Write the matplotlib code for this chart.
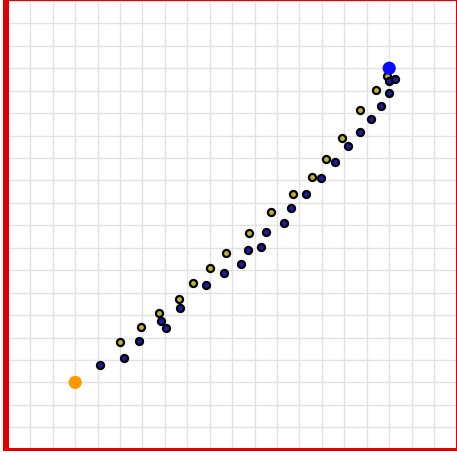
import matplotlib
matplotlib.use("Agg")
import matplotlib.pyplot as plt
from matplotlib.patches import Rectangle

# Data
yellow_x = [5.00, 5.93, 6.75, 7.64, 8.27, 9.00, 9.74, 10.75, 11.74, 12.73, 13.54, 14.19, 14.89, 15.70, 16.41, 16.88]
yellow_y = [4.81, 5.47, 6.08, 6.72, 7.44, 8.10, 8.75, 9.67, 10.58, 11.39, 12.17, 12.97, 13.89, 15.14, 16.04, 16.64]
blue_x = [4.09, 5.16, 5.84, 6.84, 7.04, 7.69, 8.83, 9.63, 10.38, 10.70, 11.28, 11.52, 12.32, 12.64, 13.29,
          13.96, 14.57, 15.15, 15.71, 16.17, 16.62, 16.99, 16.97, 17.27]
blue_y = [3.79, 4.07, 4.86, 5.74, 5.42, 6.30, 7.35, 7.89, 8.26, 8.89, 9.03, 9.69, 10.09, 10.75, 11.39,
          12.12, 12.81, 13.52, 14.14, 14.75, 15.31, 15.88, 16.43, 16.51]
start_pt = (3.0, 3.0)
goal_pt = (17.0, 17.0)

W, H = 457, 456
fig = plt.figure(figsize=(W / 100, H / 100), dpi=100)
x0, x1 = 7.9, 456.5
ytop, ybot = 1.9, 450.7
ax = fig.add_axes([x0 / W, (H - ybot) / H, (x1 - x0) / W, (ybot - ytop) / H])
ax.set_xlim(0, 20)
ax.set_ylim(0, 20)
ax.set_xticks(range(0, 21))
ax.set_yticks(range(0, 21))
ax.tick_params(length=0, labelbottom=False, labelleft=False)
ax.grid(True, color="#e2e2e2", linewidth=1.0)
ax.set_axisbelow(True)
for s in ax.spines.values():
    s.set_visible(False)

ax.scatter(yellow_x, yellow_y, s=26, c="#bdb42a", edgecolors="black", linewidths=1.6, zorder=3)
ax.scatter(blue_x, blue_y, s=26, c="#1c1ca8", edgecolors="black", linewidths=1.6, zorder=3)
ax.scatter([start_pt[0]], [start_pt[1]], s=90, c="#ff9900", edgecolors="none", zorder=4)
ax.scatter([goal_pt[0]], [goal_pt[1]], s=90, c="#0a0aff", edgecolors="none", zorder=4)

# red frame
def frect(px, py, pw, ph):
    fig.patches.append(Rectangle((px / W, (H - py - ph) / H), pw / W, ph / H,
                                 transform=fig.transFigure, facecolor="#e00000",
                                 edgecolor="none", zorder=10))

frect(3, 0, 5.7, 452.3)     # left
frect(3, 0, 454, 2)         # top
frect(455.5, 0, 1.5, 452.3)  # right
frect(3, 449.3, 454, 3)     # bottom

fig.savefig("out.png", dpi=100)
